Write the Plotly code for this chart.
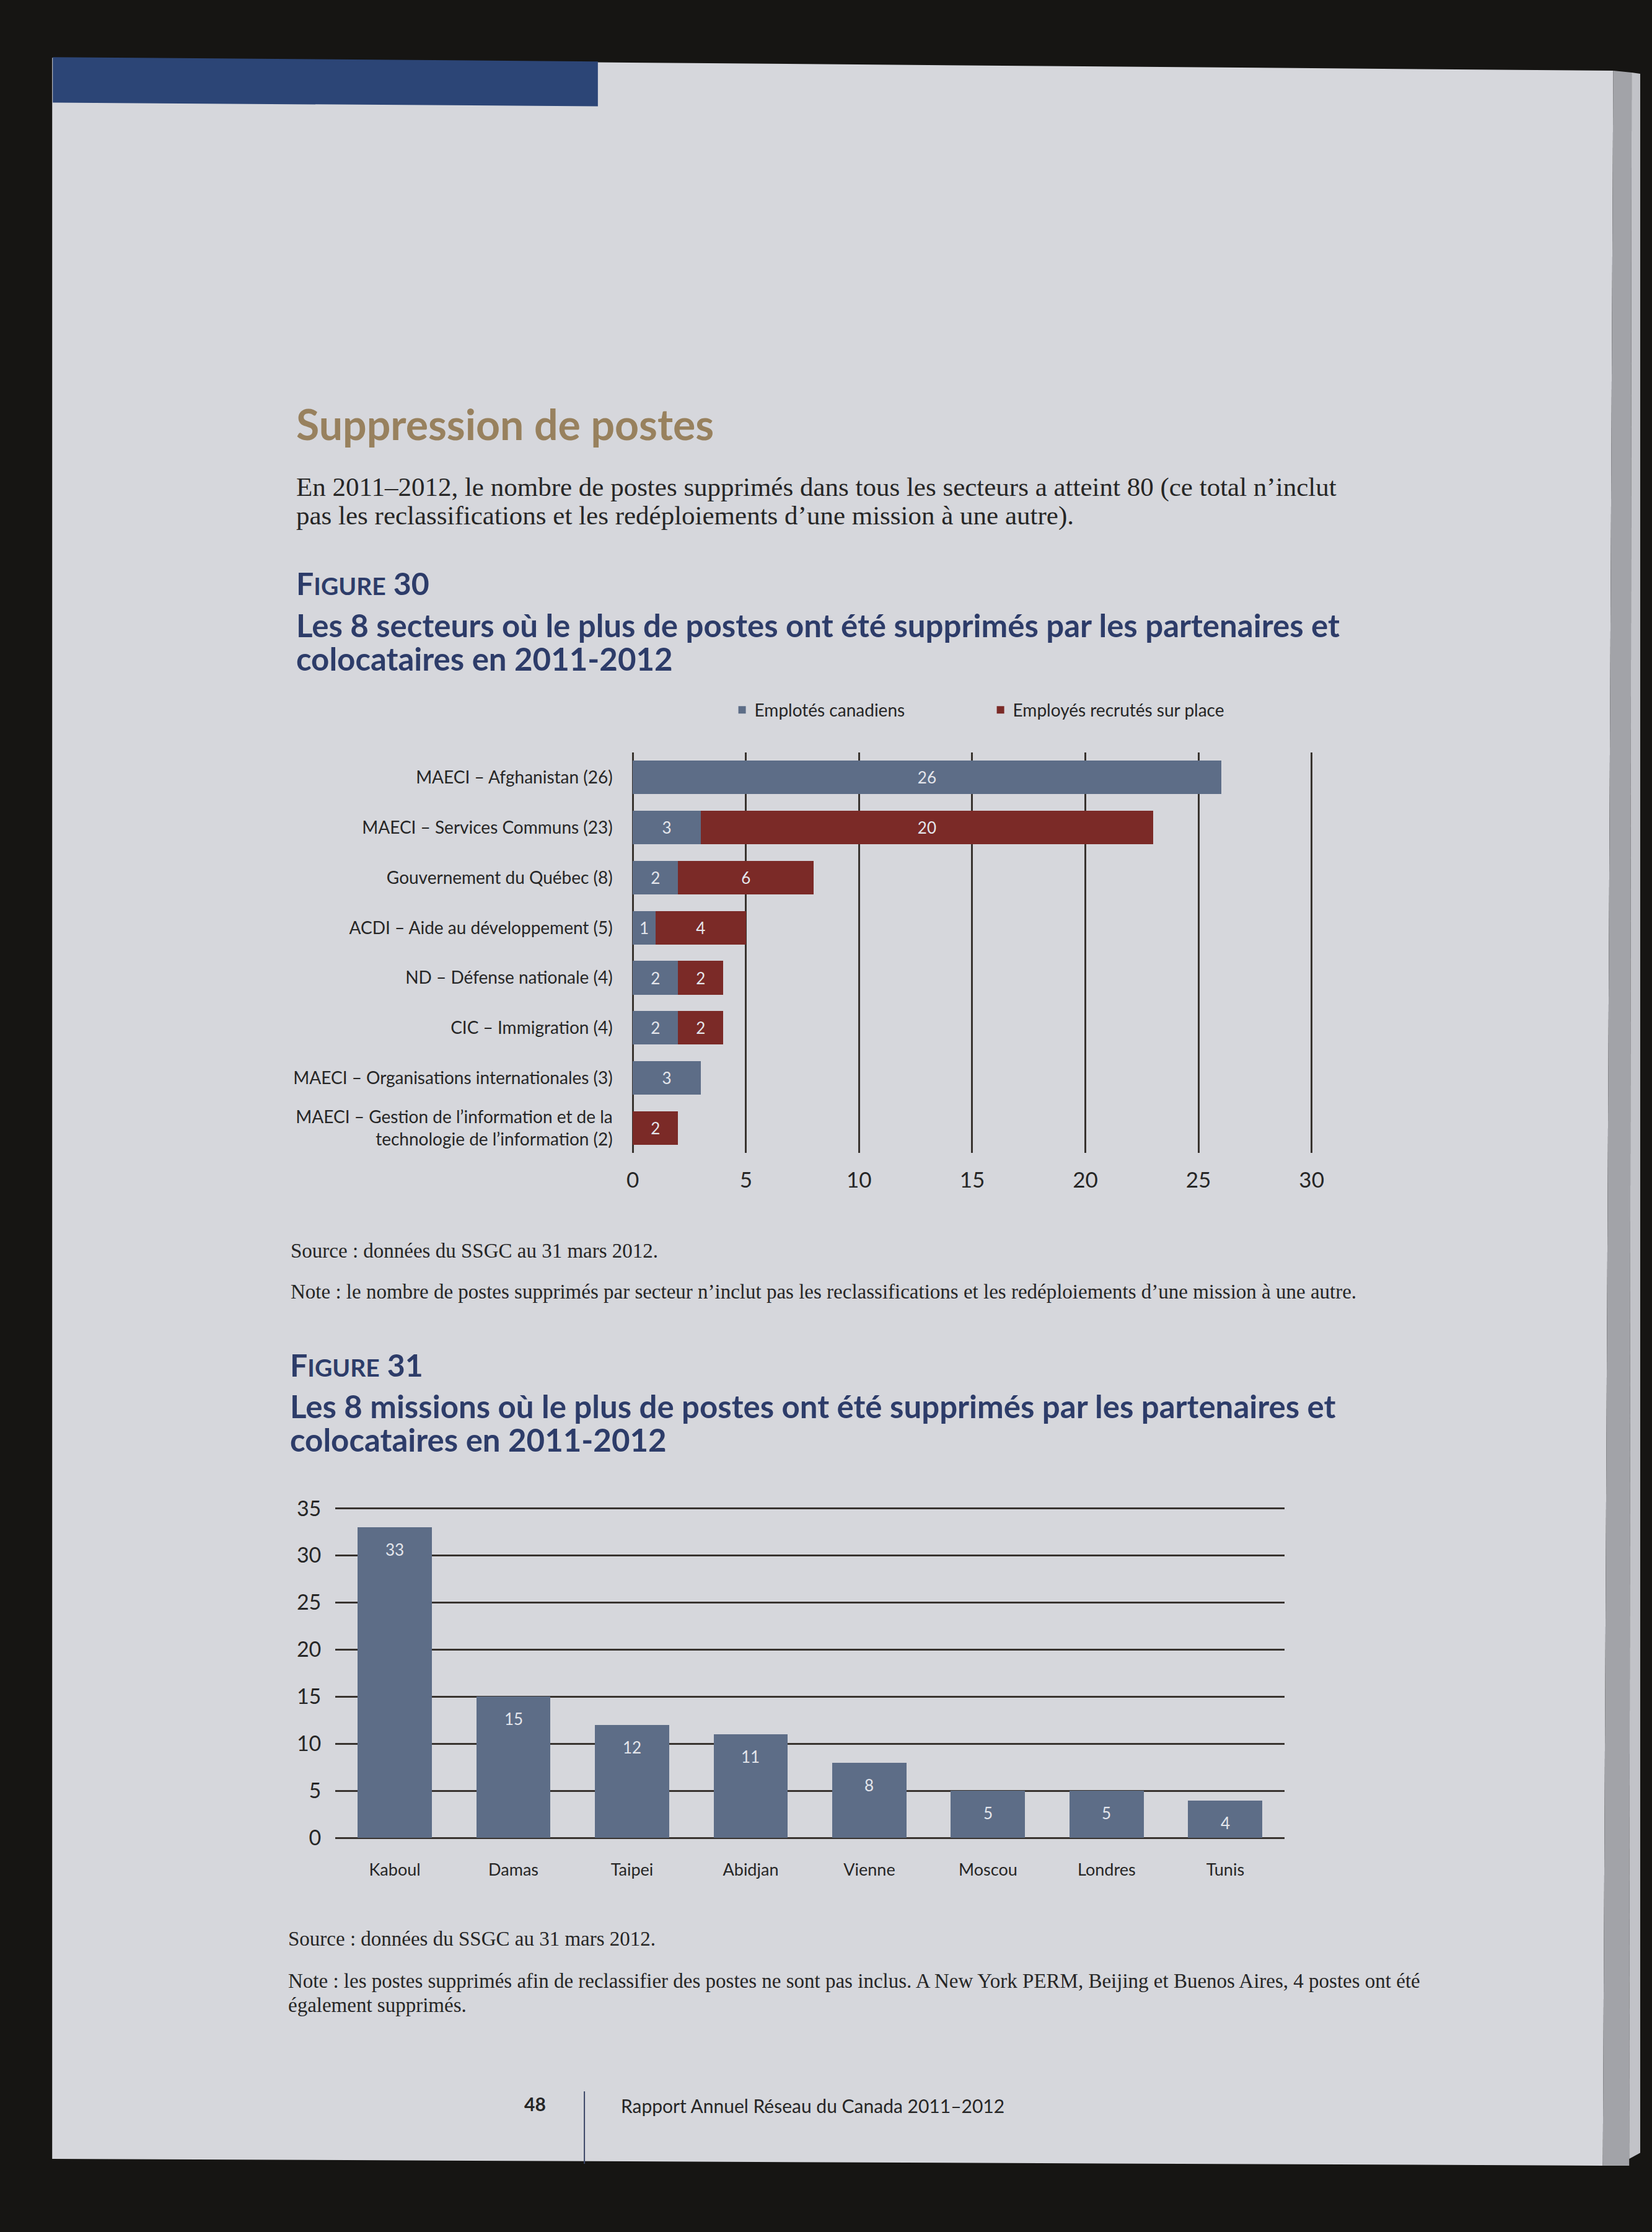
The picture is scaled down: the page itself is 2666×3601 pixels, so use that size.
import plotly.graph_objects as go

# ---------------- data ----------------
sectors = [
    "MAECI – Afghanistan (26)",
    "MAECI – Services Communs (23)",
    "Gouvernement du Québec (8)",
    "ACDI – Aide au développement (5)",
    "ND – Défense nationale (4)",
    "CIC – Immigration (4)",
    "MAECI – Organisations internationales (3)",
    "MAECI – Gestion de l’information et de la<br>technologie de l’information (2)",
]
canadian_staff = [26, 3, 2, 1, 2, 2, 3, None]
local_staff = [None, 20, 6, 4, 2, 2, None, 2]
sector_ticks = [0, 5, 10, 15, 20, 25, 30]

missions = ["Kaboul", "Damas", "Taipei", "Abidjan", "Vienne", "Moscou", "Londres", "Tunis"]
mission_cuts = [33, 15, 12, 11, 8, 5, 5, 4]
mission_ticks = [0, 5, 10, 15, 20, 25, 30, 35]

# ---------------- styling ----------------
W, H = 2666, 3601
SANS = "Lato, 'Open Sans', sans-serif"
SERIF = "'Liberation Serif', 'DejaVu Serif', serif"
NAVY = "#2d3c69"
BLUE = "#5d6d87"
RED = "#7b2a27"
GRID = "#38332f"
TXT = "#262626"
PAGE = "#d6d7dc"
DARK = "#161513"


def px(x):
    return x / W


def py(y):
    return 1 - y / H


def poly(pts):
    return "M " + " L ".join(f"{px(x):.5f},{py(y):.5f}" for x, y in pts) + " Z"


fig = go.Figure()

# Figure 30 – stacked horizontal bars
for vals, name, col in [(canadian_staff, "Emplotés canadiens", BLUE),
                        (local_staff, "Employés recrutés sur place", RED)]:
    fig.add_trace(go.Bar(
        y=sectors, x=vals, orientation="h", name=name,
        marker=dict(color=col, line=dict(width=0)), width=0.67,
        texttemplate="%{x}", textposition="inside", insidetextanchor="middle",
        textangle=0, constraintext="none",
        textfont=dict(family=SANS, size=26, color="#e4e6ec"),
        xaxis="x", yaxis="y",
    ))

# Figure 31 – vertical bars
fig.add_trace(go.Bar(
    x=missions, y=mission_cuts, marker=dict(color=BLUE, line=dict(width=0)),
    width=0.626, showlegend=False, xaxis="x2", yaxis="y2", hoverinfo="x+y",
))

annotations = []
for m, v in zip(missions, mission_cuts):
    annotations.append(dict(
        x=m, y=v, xref="x2", yref="y2", text=str(v), showarrow=False,
        yshift=-36, yanchor="middle",
        font=dict(family=SANS, size=26, color="#e4e6ec"),
    ))


def add_text(x, y, text, size, color=TXT, family=SERIF, anchor="left"):
    annotations.append(dict(
        x=px(x), y=py(y), xref="paper", yref="paper", text=text,
        showarrow=False, xanchor=anchor, yanchor="middle",
        font=dict(family=family, size=size, color=color),
    ))


add_text(472, 672, "<b>Suppression de postes</b>", 68, "#98815e", SANS)
add_text(472, 776, "En 2011–2012, le nombre de postes supprimés dans tous les secteurs a atteint 80 (ce total n’inclut", 43)
add_text(472, 822, "pas les reclassifications et les redéploiements d’une mission à une autre).", 43)

fig_lbl = "<b>F<span style='font-size:39px'>IGURE</span> {}</b>"
add_text(472, 932, fig_lbl.format("30"), 50, NAVY, SANS)
add_text(472, 1000, "<b>Les 8 secteurs où le plus de postes ont été supprimés par les partenaires et</b>", 51, NAVY, SANS)
add_text(472, 1055, "<b>colocataires en 2011-2012</b>", 51, NAVY, SANS)

add_text(463, 2020, "Source : données du SSGC au 31 mars 2012.", 33)
add_text(463, 2087, "Note : le nombre de postes supprimés par secteur n’inclut pas les reclassifications et les redéploiements d’une mission à une autre.", 33)

add_text(462, 2206, fig_lbl.format("31"), 50, NAVY, SANS)
add_text(462, 2273, "<b>Les 8 missions où le plus de postes ont été supprimés par les partenaires et</b>", 51, NAVY, SANS)
add_text(462, 2328, "<b>colocataires en 2011-2012</b>", 51, NAVY, SANS)

add_text(459, 3141, "Source : données du SSGC au 31 mars 2012.", 33)
add_text(459, 3210, "Note : les postes supprimés afin de reclassifier des postes ne sont pas inclus. A New York PERM, Beijing et Buenos Aires, 4 postes ont été", 33)
add_text(459, 3249, "également supprimés.", 33)

add_text(864, 3410, "<b>48</b>", 30, TXT, SANS, anchor="center")
add_text(1002, 3413, "Rapport Annuel Réseau du Canada 2011–2012", 30, TXT, SANS)

shapes = [
    # page
    dict(type="path", xref="paper", yref="paper", layer="below",
         path=poly([(76, 76), (2622, 97), (2605, 3511), (76, 3500)]),
         fillcolor=PAGE, line=dict(width=0)),
    # gutter strips on the right
    dict(type="path", xref="paper", yref="paper", layer="below",
         path=poly([(2622, 97), (2652, 100), (2648, 3511), (2605, 3511)]),
         fillcolor="#a2a3a8", line=dict(width=0)),
    dict(type="path", xref="paper", yref="paper", layer="below",
         path=poly([(2652, 100), (2666, 102), (2666, 3490), (2648, 3500)]),
         fillcolor="#c2c3c8", line=dict(width=0)),
    # blue header band
    dict(type="path", xref="paper", yref="paper", layer="below",
         path=poly([(77, 75), (966, 82), (966, 155), (77, 149)]),
         fillcolor="#2c4576", line=dict(width=0)),
    # footer divider
    dict(type="line", xref="paper", yref="paper", layer="below",
         x0=px(944), x1=px(944), y0=py(3390), y1=py(3508),
         line=dict(color="#3a4566", width=2)),
]

fig.update_layout(
    autosize=True,
    margin=dict(l=0, r=0, t=0, b=0),
    paper_bgcolor=DARK,
    plot_bgcolor="rgba(0,0,0,0)",
    barmode="stack",
    font=dict(family=SANS, color=TXT),
    showlegend=True,
    legend=dict(
        orientation="h", x=px(1181), y=py(1139), xanchor="left", yanchor="middle",
        font=dict(family=SANS, size=28, color=TXT),
        entrywidth=372, entrywidthmode="pixels",
        bgcolor="rgba(0,0,0,0)", traceorder="normal", itemclick=False,
    ),
    xaxis=dict(
        domain=[px(1021.5), px(2131.5)], range=[-0.04, 30.04], anchor="y",
        tickvals=sector_ticks, showgrid=True, gridcolor=GRID, gridwidth=2.5,
        zeroline=True, zerolinecolor=GRID, zerolinewidth=2.5, showline=False,
        tickfont=dict(family=SANS, size=35, color=TXT), ticklabelstandoff=20,
        fixedrange=True,
    ),
    yaxis=dict(
        domain=[py(1861), py(1208)], anchor="x", type="category",
        categoryorder="array", categoryarray=sectors, range=[7.5, -0.5],
        showgrid=False, zeroline=False, showline=False,
        tickfont=dict(family=SANS, size=28, color=TXT), ticklabelstandoff=30,
        fixedrange=True,
    ),
    xaxis2=dict(
        domain=[px(538), px(2086)], anchor="y2", type="category",
        categoryorder="array", categoryarray=missions,
        showgrid=False, zeroline=False, showline=False,
        tickfont=dict(family=SANS, size=27, color=TXT), ticklabelstandoff=32,
        fixedrange=True,
    ),
    yaxis2=dict(
        domain=[py(2977.8), py(2435.4)], anchor="x2", range=[-0.05, 35.3],
        tickvals=mission_ticks, showgrid=True, gridcolor=GRID, gridwidth=2.5,
        zeroline=True, zerolinecolor=GRID, zerolinewidth=2.5, showline=False,
        tickfont=dict(family=SANS, size=34, color=TXT), ticklabelstandoff=22,
        fixedrange=True,
    ),
    annotations=annotations,
    shapes=shapes,
)

fig.write_html(
    "out.html",
    config={"displayModeBar": False, "responsive": True},
    default_width="100vw",
    default_height="100vh",
    post_script=(
        "document.body.style.margin='0';"
        "document.documentElement.style.margin='0';"
        "document.body.style.background='" + DARK + "';"
        "document.body.style.overflow='hidden';"
        "window.dispatchEvent(new Event('resize'));"
    ),
)
